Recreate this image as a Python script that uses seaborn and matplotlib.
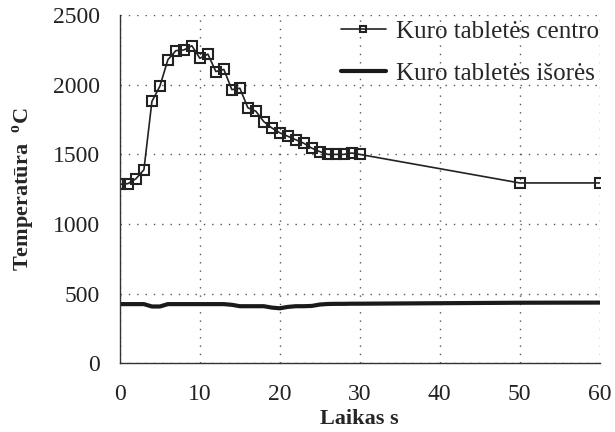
#Temperature of fuel pellet centre and outer surface vs time

import pandas as pd
import numpy as np
import matplotlib
matplotlib.use("Agg")
import matplotlib.pyplot as plt
import seaborn as sns

#data
time_s = [0, 1, 2, 3, 4, 5, 6, 7, 8, 9, 10, 11, 12, 13, 14, 15, 16, 17, 18, 19,
          20, 21, 22, 23, 24, 25, 26, 27, 28, 29, 30, 50, 60]
centre_temp = [1285, 1290, 1325, 1390, 1880, 1990, 2180, 2245, 2250, 2280,
               2190, 2220, 2095, 2110, 1965, 1975, 1835, 1810, 1735, 1690,
               1655, 1630, 1605, 1580, 1545, 1520, 1500, 1500, 1500, 1510,
               1500, 1295, 1295]
outer_temp = [425, 425, 425, 425, 408, 408, 425, 425, 425, 425,
              425, 425, 425, 425, 420, 410, 410, 410, 410, 400,
              395, 405, 410, 410, 412, 422, 426, 427, 427, 428,
              428, 435, 436]

label_centre = "Kuro tabletės centro"
label_outer = "Kuro tabletės išorės"

df = pd.DataFrame({"t": time_s, "centre": centre_temp, "outer": outer_temp})

sns.set_style("white")
plt.rcParams["font.family"] = ["Liberation Serif", "DejaVu Serif"]
plt.rcParams["mathtext.fontset"] = "custom"
plt.rcParams["mathtext.rm"] = "Liberation Serif"
plt.rcParams["mathtext.bf"] = "Liberation Serif:bold"

fig = plt.figure(figsize=(6.15, 4.32), dpi=100)
ax = fig.add_axes([0.195, 0.159, 0.78, 0.806])

sns.lineplot(data=df, x="t", y="centre", ax=ax, color="#222222", lw=1.2,
             marker="s", markersize=7.5, markerfacecolor="none",
             markeredgecolor="#222222", markeredgewidth=1.5,
             label=label_centre)
sns.lineplot(data=df, x="t", y="outer", ax=ax, color="#1a1a1a", lw=3.0,
             label=label_outer)

ax.set_xlim(0, 60)
ax.set_ylim(0, 2500)
ax.set_xticks(np.arange(0, 61, 10))
ax.set_yticks(np.arange(0, 2501, 500))
ax.grid(True, color="#555555", linestyle=(0, (1, 5)), lw=1.0)

for s in ["top", "right"]:
    ax.spines[s].set_visible(False)
for s in ["left", "bottom"]:
    ax.spines[s].set_color("#333333")
    ax.spines[s].set_linewidth(1.0)

ax.tick_params(axis="y", direction="out", length=6.5, labelsize=17,
               colors="#222222", pad=8)
ax.tick_params(axis="x", direction="in", length=4, labelsize=17,
               colors="#222222", pad=15)

ax.set_xlabel("Laikas s", fontsize=16, fontweight="bold", labelpad=3)
ax.set_ylabel(r"Temperatūra  $^{\mathbf{o}}$C", fontsize=16,
              fontweight="bold", labelpad=11)

leg = ax.legend(loc="upper right", bbox_to_anchor=(1.045, 1.05), frameon=False,
                fontsize=18, labelspacing=0.8, handlelength=1.8,
                handletextpad=0.4, markerscale=0.6)

fig.savefig("out.png", dpi=100)
